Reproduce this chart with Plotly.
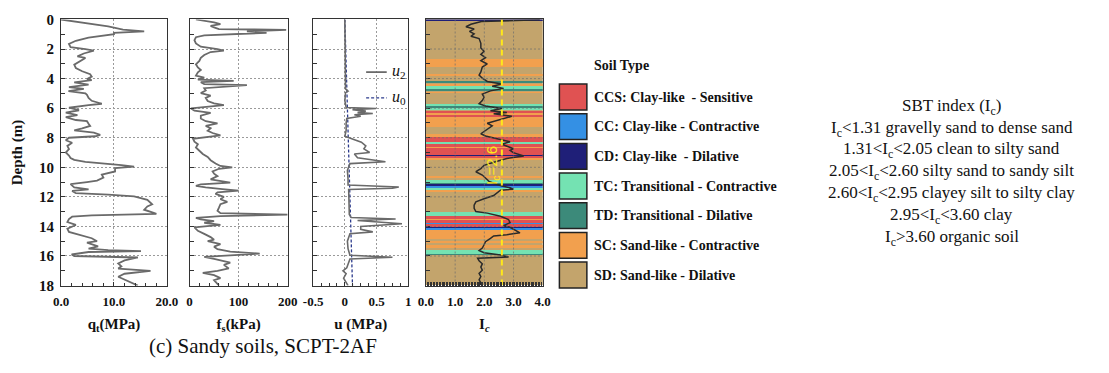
import plotly.graph_objects as go
from plotly.subplots import make_subplots

# ---------------- data ----------------
QT_POINTS = [(0, 0), (0.26, 5.2), (0.47, 8.9), (0.69, 11.7), (0.8, 15.7), (0.9, 10.0), (1.0, 10.0),
             (1.23, 5.2), (1.44, 2.8), (1.66, 1.5), (1.87, 1.8), (2.0, 4.6), (2.1, 6.2), (2.3, 4.3),
             (2.5, 3.1), (2.6, 4.6), (2.85, 3.4), (3.06, 2.5), (3.28, 2.8), (3.5, 4.0), (3.7, 5.5),
             (3.86, 5.8), (4.03, 4.9), (4.1, 5.8), (4.25, 2.5), (4.4, 5.2), (4.57, 1.5), (4.7, 4.3),
             (4.85, 1.4), (5.0, 4.6), (5.1, 4.9), (5.3, 5.2), (5.5, 5.8), (5.7, 7.7), (5.8, 5.2),
             (5.97, 1.5), (6.14, 3.4), (6.3, 0.9), (6.47, 3.1), (6.6, 0.9), (6.8, 2.8), (6.88, 4.9),
             (7.05, 5.2), (7.2, 5.5), (7.37, 4.0), (7.5, 2.5), (7.65, 6.2), (7.8, 7.4), (7.9, 6.5),
             (8.0, 1.5), (8.17, 0.9), (8.34, 2.1), (8.55, 1.2), (8.77, 1.5), (9.0, 0.9), (9.2, 1.5),
             (9.37, 1.8), (9.5, 2.5), (9.63, 4.6), (9.74, 8.9), (9.85, 11.4), (9.95, 13.8), (10.06, 10.2),
             (10.28, 10.2), (10.4, 8.9), (10.5, 7.7), (10.7, 8.0), (10.9, 6.8), (11.0, 4.9), (11.14, 1.8),
             (11.36, 2.5), (11.5, 5.2), (11.6, 2.1), (11.75, 2.8), (11.85, 8.9), (11.96, 13.8), (12.2, 16.3),
             (12.5, 17.2), (12.65, 16.3), (12.87, 15.7), (13.08, 17.5), (13.15, 18.0), (13.25, 5.8),
             (13.34, 2.1), (13.5, 1.5), (13.7, 1.2), (13.9, 2.8), (14.15, 1.2), (14.37, 1.5), (14.6, 3.7),
             (14.8, 5.8), (15.0, 6.8), (15.1, 4.9), (15.35, 7.0), (15.5, 5.2), (15.6, 8.9), (15.67, 15.1),
             (15.73, 5.2), (15.9, 2.0), (16.0, 2.5), (16.1, 14.5), (16.3, 12.0), (16.5, 10.8), (16.7, 11.4),
             (16.85, 10.8), (17.0, 16.9), (17.2, 12.0), (17.4, 10.8), (17.6, 12.0), (17.8, 13.5), (18.0, 14.5)]

FS_POINTS = [(0, 13), (0.1, 37), (0.2, 50), (0.32, 63), (0.43, 43), (0.54, 50), (0.65, 60), (0.7, 197),
             (0.8, 117), (0.9, 157), (1.0, 70), (1.08, 30), (1.2, 13), (1.4, 10), (1.62, 13), (1.84, 23),
             (2.0, 57), (2.1, 70), (2.2, 43), (2.4, 30), (2.6, 23), (2.8, 20), (3.03, 13), (3.25, 17),
             (3.42, 23), (3.57, 17), (3.8, 13), (3.94, 30), (4.07, 17), (4.15, 90), (4.24, 23), (4.37, 30),
             (4.44, 117), (4.55, 63), (4.65, 30), (4.8, 33), (4.98, 23), (5.15, 43), (5.3, 33), (5.52, 37),
             (5.67, 50), (5.8, 70), (5.9, 33), (6.02, 3), (6.17, 10), (6.32, 43), (6.5, 23), (6.7, 23),
             (6.88, 33), (7.03, 57), (7.2, 33), (7.36, 43), (7.53, 37), (7.68, 47), (7.84, 63), (7.94, 43),
             (8.07, 7), (8.27, 10), (8.44, 17), (8.66, 13), (8.87, 20), (9.1, 27), (9.3, 37), (9.52, 43),
             (9.74, 53), (9.91, 63), (10.0, 87), (10.1, 60), (10.28, 47), (10.43, 50), (10.6, 57), (10.82, 43),
             (11.04, 83), (11.15, 23), (11.26, 13), (11.36, 33), (11.47, 67), (11.58, 100), (11.7, 57),
             (11.8, 53), (12.0, 70), (12.16, 63), (12.34, 77), (12.5, 63), (12.73, 60), (12.94, 57),
             (13.1, 63), (13.2, 200), (13.3, 63), (13.42, 13), (13.53, 23), (13.64, 50), (13.75, 30),
             (13.9, 63), (14.07, 10), (14.3, 17), (14.5, 30), (14.72, 43), (14.9, 50), (15.0, 37), (15.2, 63),
             (15.37, 50), (15.54, 57), (15.7, 83), (15.84, 143), (15.97, 70), (16.06, 30), (16.2, 50),
             (16.34, 70), (16.45, 83), (16.6, 70), (16.84, 80), (17.0, 57), (17.14, 27), (17.3, 50),
             (17.5, 63), (17.63, 50), (17.85, 57), (18.0, 60)]

U2_POINTS = [(0, 0), (1, 0), (2, 0.005), (3, 0.005), (4, 0.01), (4.7, 0.01), (4.85, 0.05), (4.95, 0.01),
             (5.5, 0.0), (5.95, 0.02), (6.02, 0.49), (6.1, 0.12), (6.2, 0.33), (6.3, 0.2), (6.36, 0.44),
             (6.45, 0.15), (6.55, 0.25), (6.7, 0.03), (7.0, 0.02), (7.5, 0.02), (7.9, 0.0), (8.1, 0.13),
             (8.3, 0.26), (8.55, 0.33), (8.75, 0.3), (9.0, 0.39), (9.1, 0.15), (9.35, 0.2), (9.62, 0.64),
             (9.75, 0.08), (10.2, 0.04), (10.8, 0.05), (11.2, 0.05), (11.33, 0.85), (11.42, 0.75),
             (11.5, 0.06), (12.0, 0.06), (12.5, 0.06), (13.2, 0.07), (13.4, 0.1), (13.5, 0.8), (13.6, 0.2),
             (13.82, 0.9), (14.0, 0.25), (14.2, 0.25), (14.37, 0.44), (14.5, 0.08), (15.0, 0.04),
             (15.5, 0.05), (15.95, 0.08), (16.08, 0.75), (16.2, 0.08), (16.8, 0.03), (17.0, -0.03),
             (17.2, 0.02), (17.5, -0.02), (17.8, 0.03), (18.0, 0.05)]

U0_POINTS = [(0, 0.0), (18, 0.12)]

IC_POINTS = [(0.02, 3.9), (0.08, 2.5), (0.14, 1.9), (0.32, 1.54), (0.49, 1.37), (0.65, 1.65), (0.8, 1.49),
             (0.97, 1.65), (1.14, 1.54), (1.29, 1.82), (1.61, 1.88), (1.93, 1.88), (2.15, 1.99), (2.36, 1.88),
             (2.58, 2.04), (2.79, 1.88), (3.01, 2.1), (3.22, 1.93), (3.55, 1.88), (3.76, 1.82), (3.97, 1.93),
             (4.19, 2.1), (4.36, 2.6), (4.51, 2.27), (4.66, 2.66), (4.83, 2.21), (5.05, 1.93), (5.26, 1.99),
             (5.48, 1.93), (5.7, 1.82), (5.85, 2.04), (6.02, 2.6), (6.17, 2.21), (6.3, 2.77), (6.38, 2.32),
             (6.55, 2.94), (6.72, 2.66), (6.88, 2.38), (7.02, 2.1), (7.2, 2.27), (7.41, 2.1), (7.58, 1.99),
             (7.73, 1.88), (7.88, 2.04), (8.05, 2.44), (8.27, 2.88), (8.44, 2.6), (8.59, 2.77), (8.74, 3.0),
             (8.85, 2.88), (9.01, 2.99), (9.23, 3.35), (9.4, 2.77), (9.62, 2.38), (9.87, 1.99), (10.09, 1.88),
             (10.3, 1.71), (10.52, 1.93), (10.73, 2.04), (10.95, 2.16), (11.16, 2.44), (11.27, 2.6),
             (11.38, 2.88), (11.48, 2.99), (11.55, 2.55), (11.7, 2.44), (11.91, 2.32), (12.13, 1.99),
             (12.34, 1.71), (12.56, 1.65), (12.77, 1.65), (12.99, 1.71), (13.1, 2.1), (13.31, 2.55),
             (13.53, 2.83), (13.74, 2.88), (13.95, 2.66), (14.06, 2.88), (14.28, 3.1), (14.43, 3.22),
             (14.56, 2.77), (14.64, 2.32), (14.81, 2.21), (15.03, 2.04), (15.24, 1.99), (15.46, 1.93),
             (15.63, 1.82), (15.78, 1.99), (15.93, 2.55), (16.06, 2.83), (16.15, 1.77), (16.32, 1.82),
             (16.53, 1.93), (16.75, 1.88), (16.96, 1.93), (17.18, 1.82), (17.39, 1.88), (17.61, 1.82),
             (17.82, 1.88), (17.97, 1.85)]

IC_THRESHOLD = 2.6

# soil layers in the Ic panel: (type, top depth, bottom depth); SD fills the rest
SOIL_LAYERS = [("SD", 0.0, 18.0), ("CD", 0.0, 0.08),
               ("SC", 2.7, 3.28), ("SC", 3.76, 3.87), ("TD", 4.23, 4.36), ("SC", 4.45, 4.53),
               ("TC", 4.53, 4.73), ("TD", 4.75, 4.83), ("SC", 4.95, 5.0), ("TC", 5.8, 5.91),
               ("TD", 5.91, 6.02), ("TC", 6.02, 6.17), ("CCS", 6.23, 6.34), ("SC", 6.4, 6.5),
               ("CCS", 6.5, 6.6), ("SC", 6.66, 7.3), ("SC", 7.8, 7.96), ("CCS", 7.96, 8.33),
               ("TC", 8.33, 8.45), ("CCS", 8.45, 8.66), ("SC", 8.66, 8.75), ("CCS", 8.75, 8.97),
               ("CC", 8.97, 9.06), ("CCS", 9.06, 9.19), ("CD", 9.19, 9.32), ("CCS", 9.32, 9.4),
               ("SC", 9.4, 9.55), ("SC", 10.6, 10.78), ("TC", 10.95, 11.08), ("TD", 11.08, 11.2),
               ("CD", 11.2, 11.33), ("CC", 11.33, 11.46), ("TC", 11.46, 11.6), ("SC", 11.6, 11.66),
               ("TC", 13.05, 13.35), ("CCS", 13.35, 13.52), ("SC", 13.52, 13.65), ("CCS", 13.65, 13.78),
               ("CC", 13.78, 13.87), ("CCS", 13.87, 14.04), ("CD", 14.04, 14.17), ("CC", 14.17, 14.3),
               ("SC", 14.3, 14.86), ("SC", 15.03, 15.16), ("SC", 15.35, 15.46), ("TC", 15.63, 15.89),
               ("TD", 15.89, 15.97)]

SOIL_TYPES = ["CCS", "CC", "CD", "TC", "TD", "SC", "SD"]
SOIL_LABELS = ["CCS: Clay-like  - Sensitive", "CC: Clay-like - Contractive", "CD: Clay-like  - Dilative",
               "TC: Transitional - Contractive", "TD: Transitional - Dilative",
               "SC: Sand-like - Contractive", "SD: Sand-like - Dilative"]
SOIL_COLORS = {"CCS": "#E05252", "CC": "#3490E4", "CD": "#1F1F78", "TC": "#74E2B2",
               "TD": "#3C8A7A", "SC": "#F2A04E", "SD": "#C3A46C"}

SBT_LINES = ["SBT index (I<sub>c</sub>)",
             "I<sub>c</sub>&lt;1.31 gravelly sand to dense sand",
             "1.31&lt;I<sub>c</sub>&lt;2.05 clean to silty sand",
             "2.05&lt;I<sub>c</sub>&lt;2.60 silty sand to sandy silt",
             "2.60&lt;I<sub>c</sub>&lt;2.95 clayey silt to silty clay",
             "2.95&lt;I<sub>c</sub>&lt;3.60 clay",
             "I<sub>c</sub>&gt;3.60 organic soil"]

DEPTH_TICKS = list(range(0, 19, 2))
CAPTION = "(c) Sandy soils, SCPT-2AF"

# ---------------- figure ----------------
W, H = 1109, 373
SERIF = "Times New Roman, Liberation Serif, DejaVu Serif, serif"


def px(x):
    return x / W


def py(y):
    return 1 - y / H


fig = make_subplots(rows=1, cols=4)

LINE_GRAY = "#6a6a6a"
U0_COLOR = "#2b3a8c"
GRID_COLOR = "#9a9a9a"
GRID_DASH = "2px,2px"

fig.add_trace(go.Scatter(x=[p[1] for p in QT_POINTS], y=[p[0] for p in QT_POINTS], mode="lines",
                         line=dict(color=LINE_GRAY, width=1.8), showlegend=False), row=1, col=1)
fig.add_trace(go.Scatter(x=[p[1] for p in FS_POINTS], y=[p[0] for p in FS_POINTS], mode="lines",
                         line=dict(color=LINE_GRAY, width=1.8), showlegend=False), row=1, col=2)
fig.add_trace(go.Scatter(x=[p[1] for p in U0_POINTS], y=[p[0] for p in U0_POINTS], mode="lines",
                         line=dict(color=U0_COLOR, width=1.3, dash="3px,2px"), showlegend=False), row=1, col=3)
fig.add_trace(go.Scatter(x=[p[1] for p in U2_POINTS], y=[p[0] for p in U2_POINTS], mode="lines",
                         line=dict(color=LINE_GRAY, width=1.6), showlegend=False), row=1, col=3)

# soil layers as horizontal bars
for st in SOIL_TYPES[::-1]:
    layers = [l for l in SOIL_LAYERS if l[0] == st]
    if not layers:
        continue
    fig.add_trace(go.Bar(orientation="h",
                         y=[(l[1] + l[2]) / 2 for l in layers],
                         width=[l[2] - l[1] for l in layers],
                         x=[4.0] * len(layers), base=[0] * len(layers),
                         marker=dict(color=SOIL_COLORS[st], line=dict(width=0)),
                         showlegend=False), row=1, col=4)
fig.add_trace(go.Scatter(x=[p[1] for p in IC_POINTS], y=[p[0] for p in IC_POINTS], mode="lines",
                         line=dict(color="#2a2a2a", width=1.5), showlegend=False), row=1, col=4)
fig.add_trace(go.Scatter(x=[IC_THRESHOLD, IC_THRESHOLD], y=[0, 18], mode="lines",
                         line=dict(color="#FFE81A", width=2, dash="6px,4px"), showlegend=False), row=1, col=4)

fig.update_layout(barmode="overlay", bargap=0, font=dict(family=SERIF))

tickfont = dict(family=SERIF, size=13, color="#111", weight="bold")
titlefont = dict(family=SERIF, size=15, color="#111", weight="bold")
common_x = dict(showline=True, mirror=True, linecolor="#333", linewidth=1, ticks="inside", ticklen=4,
                tickcolor="#333", tickfont=tickfont, showgrid=True, gridcolor=GRID_COLOR, griddash=GRID_DASH,
                gridwidth=1, zeroline=False, title_font=titlefont, title_standoff=10, ticklabelstandoff=4)
x_domains = [(52, 160), (183, 283), (309, 406), (424, 543)]
x_specs = [
    dict(range=[0, 20], tickvals=[0, 10, 20], ticktext=["0.0", "10.0", "20.0"],
         minor=dict(ticks="inside", dtick=2, ticklen=3, tickcolor="#333", showgrid=False),
         title_text="q<sub>t</sub>(MPa)"),
    dict(range=[0, 200], tickvals=[0, 100, 200], ticktext=["0", "100", "200"],
         minor=dict(ticks="inside", dtick=20, ticklen=3, tickcolor="#333", showgrid=False),
         title_text="f<sub>s</sub>(kPa)"),
    dict(range=[-0.5, 1], tickvals=[-0.5, 0, 0.5, 1], ticktext=["-0.5", "0", "0.5", "1"],
         minor=dict(ticks="inside", dtick=0.125, ticklen=3, tickcolor="#333", showgrid=False),
         title_text="u (MPa)"),
    dict(range=[0, 4], tickvals=[0, 1, 2, 3, 4], ticktext=["0.0", "1.0", "2.0", "3.0", "4.0"],
         minor=dict(ticks="inside", dtick=0.05, ticklen=4, tickcolor="#333", showgrid=False),
         title_text="I<sub><i>c</i></sub>", showgrid=False),
]
for i, (dom, spec) in enumerate(zip(x_domains, x_specs), start=1):
    d = dict(common_x)
    d.update(spec)
    d["domain"] = [px(dom[0]), px(dom[1])]
    fig.update_layout(**{f"xaxis{'' if i == 1 else i}": d})

for i in range(1, 5):
    fig.update_layout(**{f"yaxis{'' if i == 1 else i}": dict(
        domain=[py(290), py(12)], range=[18, 0], tickvals=DEPTH_TICKS, showticklabels=(i == 1),
        showline=True, mirror=True, linecolor="#333", linewidth=1, ticks="inside", ticklen=4,
        tickcolor="#333", minor=dict(ticks="inside", dtick=1, ticklen=4, tickcolor="#333", showgrid=False),
        showgrid=(i != 4), gridcolor=GRID_COLOR, griddash=GRID_DASH, gridwidth=1, zeroline=False,
        tickfont=dict(family=SERIF, size=15, color="#111", weight="bold"), ticklabelstandoff=3,
        title_text="Depth (m)" if i == 1 else None, title_font=titlefont, title_standoff=12)})

# grid over the Ic colour layers
shapes = []
for dd in DEPTH_TICKS[1:-1]:
    shapes.append(dict(type="line", xref="x4", yref="y4", x0=0, x1=4, y0=dd, y1=dd, layer="above",
                       line=dict(color="rgba(110,110,110,0.7)", width=1, dash=GRID_DASH)))
for xv in [1, 2, 3]:
    shapes.append(dict(type="line", xref="x4", yref="y4", x0=xv, x1=xv, y0=0, y1=18, layer="above",
                       line=dict(color="rgba(110,110,110,0.7)", width=1, dash=GRID_DASH)))

annotations = []
# Ic = 2.6 label
annotations.append(dict(xref="x4", yref="y4", x=IC_THRESHOLD - 0.3, y=9.9, text="I<sub>c</sub>=2.6",
                        showarrow=False, textangle=-90,
                        font=dict(family="Liberation Sans, Arial, sans-serif", size=15, color="#FFE81A")))

# u2 / u0 legend in panel 3
shapes.append(dict(type="line", xref="paper", yref="paper", x0=px(363), x1=px(384), y0=py(67), y1=py(67),
                   line=dict(color=LINE_GRAY, width=1.8)))
shapes.append(dict(type="line", xref="paper", yref="paper", x0=px(363), x1=px(384), y0=py(94), y1=py(94),
                   line=dict(color=U0_COLOR, width=1.3, dash="3px,2px")))
for lab, yy in [("<i>u</i><sub>2</sub>", 66), ("<i>u</i><sub>0</sub>", 93)]:
    annotations.append(dict(xref="paper", yref="paper", x=px(387), y=py(yy), xanchor="left", yanchor="middle",
                            text=lab, showarrow=False, font=dict(family=SERIF, size=16, color="#111")))

# soil type legend
annotations.append(dict(xref="paper", yref="paper", x=px(593), y=py(60), xanchor="left", yanchor="middle",
                        text="<b>Soil Type</b>", showarrow=False, font=dict(family=SERIF, size=14, color="#111")))
row_y = [93, 124, 155, 186, 217, 248, 279]
for st, lab, yc in zip(SOIL_TYPES, SOIL_LABELS, row_y):
    shapes.append(dict(type="rect", xref="paper", yref="paper", x0=px(560), x1=px(588),
                       y0=py(yc + 13.5), y1=py(yc - 13.5), fillcolor=SOIL_COLORS[st],
                       line=dict(color="#222", width=1.5)))
    annotations.append(dict(xref="paper", yref="paper", x=px(593), y=py(yc), xanchor="left", yanchor="middle",
                            text=f"<b>{lab}</b>", showarrow=False,
                            font=dict(family=SERIF, size=14, color="#111")))

# SBT text block
sbt_y = [103, 126, 148, 171, 194, 217, 240]
for txt, yy in zip(SBT_LINES, sbt_y):
    annotations.append(dict(xref="paper", yref="paper", x=px(960), y=py(yy), xanchor="center", yanchor="middle",
                            text=txt, showarrow=False, font=dict(family=SERIF, size=17, color="#111")))

# caption
annotations.append(dict(xref="paper", yref="paper", x=px(258), y=py(353), xanchor="center", yanchor="middle",
                        text=CAPTION, showarrow=False, font=dict(family=SERIF, size=21, color="#111")))

fig.update_layout(width=W, height=H, margin=dict(l=0, r=0, t=0, b=0), paper_bgcolor="white",
                  plot_bgcolor="white", shapes=shapes, annotations=annotations, showlegend=False)

fig.write_html("out.html")
